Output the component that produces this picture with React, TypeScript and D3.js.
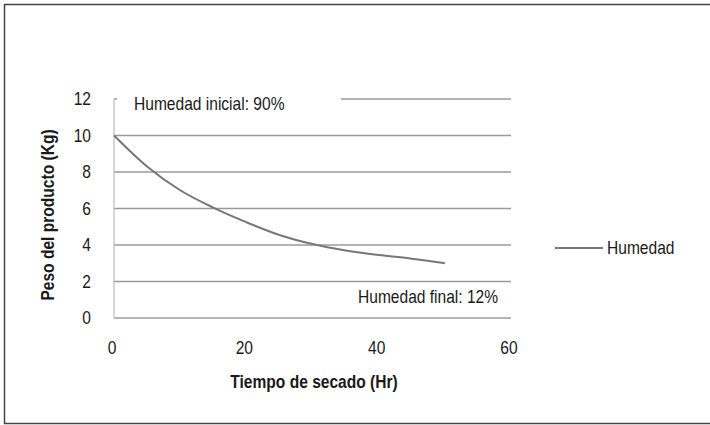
import React, { useRef, useEffect } from 'react';
import * as d3 from 'd3';

const hours = [0, 5, 10, 15, 20, 25, 30, 35, 40, 45, 50];
const weight = [10, 8.3, 7.0, 6.05, 5.25, 4.55, 4.05, 3.7, 3.45, 3.25, 3.0];
const yTicks = [0, 2, 4, 6, 8, 10, 12];
const xTicks = [0, 20, 40, 60];
const seriesName = 'Humedad';
const noteStart = 'Humedad inicial: 90%';
const noteEnd = 'Humedad final: 12%';

const FONT = '"Liberation Sans", Arial, sans-serif';
// no narrow font installed, so squeeze glyphs horizontally
const SQUEEZE = 0.89;

export default function App() {
  const ref = useRef<SVGSVGElement>(null);

  useEffect(() => {
    const svg = d3.select(ref.current);
    svg.selectAll('*').remove();

    const x = d3.scaleLinear().domain([0, 60]).range([114, 511]);
    const y = d3.scaleLinear().domain([0, 12]).range([318, 99]);

    const label = (
      g: d3.Selection<any, unknown, null, undefined>,
      text: string | number,
      tx: number,
      ty: number,
      anchor = 'start',
      bold = false,
      rotate = 0
    ) =>
      g
        .append('text')
        .text(text)
        .attr('transform', `translate(${tx},${ty}) rotate(${rotate}) scale(${SQUEEZE},1)`)
        .attr('text-anchor', anchor)
        .attr('font-family', FONT)
        .attr('font-weight', bold ? 'bold' : 'normal')
        .attr('font-size', 17.5)
        .attr('fill', '#1a1a1a');

    // frame
    svg
      .append('rect')
      .attr('x', 4.5)
      .attr('y', 4.5)
      .attr('width', 720)
      .attr('height', 419)
      .attr('fill', 'white')
      .attr('stroke', '#444')
      .attr('stroke-width', 1.5);

    // gridlines
    svg
      .append('g')
      .selectAll('line')
      .data(yTicks)
      .enter()
      .append('line')
      .attr('x1', x(0))
      .attr('x2', x(60))
      .attr('y1', (d) => y(d))
      .attr('y2', (d) => y(d))
      .attr('stroke', '#9a9a9a')
      .attr('stroke-width', 1.5);

    // left axis line
    svg
      .append('line')
      .attr('x1', x(0))
      .attr('x2', x(0))
      .attr('y1', y(12))
      .attr('y2', y(0))
      .attr('stroke', '#bdbdbd')
      .attr('stroke-width', 1.2);

    const root = svg as unknown as d3.Selection<any, unknown, null, undefined>;

    // tick labels
    yTicks.forEach((d) => label(root, d, 91, y(d) + 6, 'end'));
    xTicks.forEach((d) => label(root, d, x(d) - 2, 354, 'middle'));

    // annotation labels with white backgrounds
    const notes = [
      { text: noteStart, x: 134, y: 110, bx: x(0) + 3, bw: 224 },
      { text: noteEnd, x: 358, y: 303, bx: 342, bw: 175 },
    ];
    notes.forEach((n) => {
      svg
        .append('rect')
        .attr('x', n.bx)
        .attr('y', n.y - 20)
        .attr('width', n.bw)
        .attr('height', 26)
        .attr('fill', 'white');
      label(root, n.text, n.x, n.y);
    });

    // curve
    const pts = hours.map((h, i) => [h, weight[i]] as [number, number]);
    const line = d3
      .line<[number, number]>()
      .x((d) => x(d[0]))
      .y((d) => y(d[1]))
      .curve(d3.curveMonotoneX);
    svg
      .append('path')
      .datum(pts)
      .attr('d', line)
      .attr('fill', 'none')
      .attr('stroke', '#777')
      .attr('stroke-width', 2);

    // legend
    svg
      .append('line')
      .attr('x1', 555)
      .attr('x2', 603)
      .attr('y1', 248)
      .attr('y2', 248)
      .attr('stroke', '#777')
      .attr('stroke-width', 2);
    label(root, seriesName, 607, 254);

    // axis titles
    label(root, 'Tiempo de secado (Hr)', 314, 388, 'middle', true);
    label(root, 'Peso del producto (Kg)', 54, 215, 'middle', true, -90);
  }, []);

  return (
    <svg
      ref={ref}
      width={710}
      height={425}
      style={{ position: 'absolute', left: 0, top: 0 }}
    ></svg>
  );
}
